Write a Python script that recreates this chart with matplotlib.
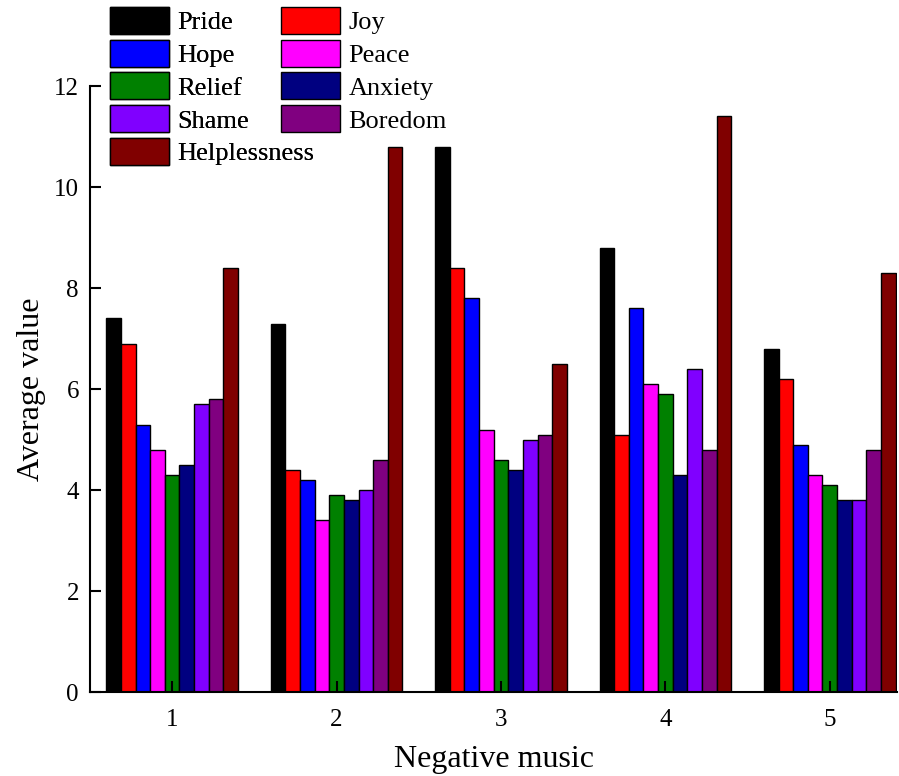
import numpy as np
import matplotlib
matplotlib.use('Agg')
import matplotlib.pyplot as plt
from matplotlib.patches import Patch

plt.rcParams['font.family'] = ['Liberation Serif', 'DejaVu Serif']

# ── 数据 ──────────────────────────────────────────────
groups = ['1', '2', '3', '4', '5']
emotions = ['Pride', 'Joy', 'Hope', 'Peace', 'Relief', 'Anxiety',
            'Shame', 'Boredom', 'Helplessness']
colors = ['#000000', '#FF0000', '#0000FF', '#FF00FF', '#008000',
          '#000080', '#8000FF', '#800080', '#800000']

pride = [7.4, 7.3, 10.8, 8.8, 6.8]
joy = [6.9, 4.4, 8.4, 5.1, 6.2]
hope = [5.3, 4.2, 7.8, 7.6, 4.9]
peace = [4.8, 3.4, 5.2, 6.1, 4.3]
relief = [4.3, 3.9, 4.6, 5.9, 4.1]
anxiety = [4.5, 3.8, 4.4, 4.3, 3.8]
shame = [5.7, 4.0, 5.0, 6.4, 3.8]
boredom = [5.8, 4.6, 5.1, 4.8, 4.8]
helplessness = [8.4, 10.8, 6.5, 11.4, 8.3]

series = [pride, joy, hope, peace, relief, anxiety, shame, boredom, helplessness]

# ── 绘图 ──────────────────────────────────────────────
fig = plt.figure(figsize=(8.99, 7.76), dpi=100)
ax = fig.add_axes([0.1001, 0.108, 0.8979, 0.781])

x = np.arange(1, len(groups) + 1)
n = len(series)
w = 0.8 / n
for i, vals in enumerate(series):
    ax.bar(x - 0.4 + w * (i + 0.5), vals, width=w, color=colors[i],
           edgecolor='black', linewidth=1.0)

ax.set_xlim(0.5, 5.41)
ax.set_ylim(0, 12)
ax.set_xticks(x)
ax.set_xticklabels(groups)
ax.set_yticks(np.arange(0, 13, 2))
ax.spines['top'].set_visible(False)
ax.spines['right'].set_visible(False)
ax.spines['left'].set_linewidth(1.5)
ax.spines['bottom'].set_linewidth(1.5)
ax.tick_params(direction='in', length=8, width=1.5, labelsize=18)
ax.tick_params(axis='x', pad=12)
ax.tick_params(axis='y', pad=8)
ax.set_xlabel('Negative music', fontsize=23, labelpad=10)
ax.set_ylabel('Average value', fontsize=23, labelpad=6)

# 图例：两列分开放置
handles = [Patch(facecolor=c, edgecolor='black', linewidth=1.0) for c in colors]
col1 = [0, 2, 4, 6, 8]
col2 = [1, 3, 5, 7]
leg_kw = dict(frameon=False, fontsize=19, loc='upper left', borderpad=0,
              borderaxespad=0, handlelength=2.25, handleheight=1.2,
              handletextpad=0.3, labelspacing=0.2)
leg1 = fig.legend([handles[i] for i in col1], [emotions[i] for i in col1],
                  bbox_to_anchor=(110 / 899, 1 - 7 / 776), **leg_kw)
fig.add_artist(leg1)
fig.legend([handles[i] for i in col2], [emotions[i] for i in col2],
           bbox_to_anchor=(281 / 899, 1 - 7 / 776), **leg_kw)

fig.savefig('out.png', dpi=100)
